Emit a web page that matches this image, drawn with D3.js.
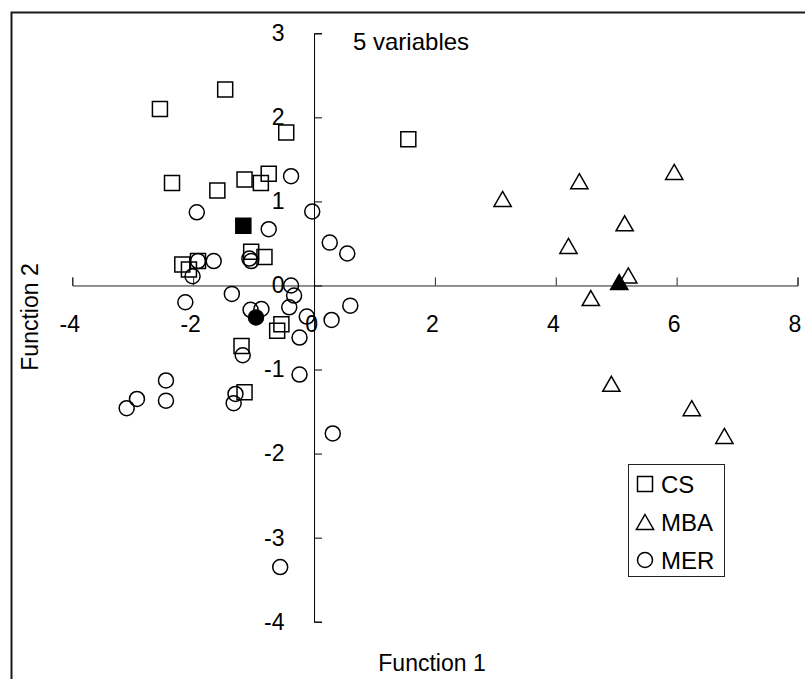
<!DOCTYPE html>
<html>
<head>
<meta charset="utf-8">
<script src="https://cdn.jsdelivr.net/npm/d3@7"></script>
<style>
  html, body { margin: 0; padding: 0; background: #fff; }
  svg text { font-family: Arial, "Liberation Sans", sans-serif; fill: #000; }
</style>
</head>
<body>
<div id="chart"></div>
<script>
// group CS (squares)
var csF1 = [-1.47, -2.55, -0.46, -2.35, -0.75, -1.15, -0.88, -1.60, -1.04, -0.82, -2.18, -1.92, -2.07, -0.54, -0.61, -1.20, -1.15, 1.56];
var csF2 = [2.33, 2.10, 1.82, 1.22, 1.33, 1.26, 1.22, 1.13, 0.40, 0.34, 0.25, 0.29, 0.19, -0.46, -0.54, -0.72, -1.27, 1.74];
// group MBA (triangles)
var mbaF1 = [3.12, 4.39, 5.96, 5.14, 4.21, 5.20, 4.58, 4.92, 6.25, 6.79];
var mbaF2 = [1.03, 1.24, 1.35, 0.74, 0.47, 0.12, -0.15, -1.17, -1.46, -1.79];
// group MER (circles)
var merF1 = [-0.38, -1.94, -0.03, -0.75, 0.26, 0.55, -1.66, -1.07, -1.04, -1.92, -2.01, -0.38, -0.33, -1.36, -2.13, -1.05, -0.87, -0.41, -0.12, 0.29, 0.60, -0.24, -1.18, -0.24, -2.45, -2.93, -3.10, -2.45, -1.30, -1.33, 0.31, -0.56];
var merF2 = [1.30, 0.87, 0.88, 0.67, 0.51, 0.38, 0.29, 0.32, 0.29, 0.29, 0.11, 0.00, -0.12, -0.10, -0.20, -0.29, -0.28, -0.26, -0.37, -0.41, -0.24, -0.62, -0.83, -1.06, -1.13, -1.35, -1.46, -1.37, -1.29, -1.40, -1.76, -3.35];
// group centroids (filled markers)
var centroidF1 = [-1.17, 5.05, -0.96];
var centroidF2 = [0.71, 0.04, -0.38];

var groups = ["CS", "MBA", "MER"];
var shapes = ["square", "triangle", "circle"];
var xTicks = [-4, -2, 0, 2, 4, 6, 8];
var yTicks = [-4, -3, -2, -1, 0, 1, 2, 3];

var width = 805, height = 679;

var svg = d3.select("#chart").append("svg")
  .attr("width", width)
  .attr("height", height);

// chart frame, runs off the right and bottom edge
svg.append("rect")
  .attr("x", 11.5).attr("y", 12.5)
  .attr("width", 820).attr("height", 700)
  .attr("fill", "#fff")
  .attr("stroke", "#1a1a1a")
  .attr("stroke-width", 2);

var x = d3.scaleLinear().domain([-4, 8]).range([72.3, 797.5]);
var y = d3.scaleLinear().domain([-4, 3]).range([621.7, 33.3]);

var fs = 23;

// plain hyphen minus, as in the original
var fmt = function(d) { return String(d); };

var xAxis = d3.axisBottom(x)
  .tickValues(xTicks)
  .tickSizeInner(-8)
  .tickSizeOuter(-8)
  .tickPadding(30)
  .tickFormat(fmt);

var gx = svg.append("g")
  .attr("transform", "translate(0," + y(0) + ")")
  .call(xAxis);
gx.selectAll("path, line").attr("stroke", "#222").attr("stroke-width", 1);
gx.selectAll("text")
  .attr("font-size", fs)
  .attr("dx", -3);

var yAxis = d3.axisLeft(y)
  .tickValues(yTicks)
  .tickSizeInner(-8)
  .tickSizeOuter(-8)
  .tickPadding(29.5)
  .tickFormat(fmt);

var gy = svg.append("g")
  .attr("transform", "translate(" + x(0) + ",0)")
  .call(yAxis);
gy.selectAll("path, line").attr("stroke", "#000").attr("stroke-width", 1);
gy.selectAll("text").attr("font-size", fs);
svg.selectAll(".domain").attr("fill", "none");
svg.selectAll("g").attr("font-family", null);

// marker path, centred on its bounding box like the spreadsheet markers
function markerPath(shape, s) {
  var h = s / 2, p = d3.path();
  if (shape === "square") {
    p.rect(-h, -h, s, s);
  } else if (shape === "triangle") {
    var w = s * 1.15 / 2;
    p.moveTo(0, -h);
    p.lineTo(w, h);
    p.lineTo(-w, h);
    p.closePath();
  } else {
    p.arc(0, 0, h, 0, 2 * Math.PI);
  }
  return p.toString();
}

function zip(a, b) {
  return a.map(function(v, i) { return [v, b[i]]; });
}

var series = [zip(csF1, csF2), zip(mbaF1, mbaF2), zip(merF1, merF2)];
var markSize = 15;

series.forEach(function(pts, gi) {
  svg.append("g").selectAll("path")
    .data(pts)
    .enter().append("path")
    .attr("d", markerPath(shapes[gi], markSize))
    .attr("transform", function(d) { return "translate(" + x(d[0]) + "," + y(d[1]) + ")"; })
    .attr("fill", "none")
    .attr("stroke", "#000")
    .attr("stroke-width", 1.5);
});

svg.append("g").selectAll("path")
  .data(zip(centroidF1, centroidF2))
  .enter().append("path")
  .attr("d", function(d, i) { return markerPath(shapes[i], markSize); })
  .attr("transform", function(d) { return "translate(" + x(d[0]) + "," + y(d[1]) + ")"; })
  .attr("fill", "#000")
  .attr("stroke", "#000")
  .attr("stroke-width", 1.5);

// titles
svg.append("text")
  .attr("x", 353).attr("y", 50)
  .attr("font-size", 24)
  .text("5 variables");

svg.append("text")
  .attr("x", 432).attr("y", 671)
  .attr("text-anchor", "middle")
  .attr("font-size", fs)
  .text("Function 1");

svg.append("text")
  .attr("transform", "translate(38,317) rotate(-90)")
  .attr("text-anchor", "middle")
  .attr("font-size", fs)
  .text("Function 2");

// legend
var legend = svg.append("g");
legend.append("rect")
  .attr("x", 628.5).attr("y", 464.5)
  .attr("width", 96).attr("height", 112)
  .attr("fill", "#fff")
  .attr("stroke", "#222")
  .attr("stroke-width", 1);

var legendY = d3.scalePoint().domain(groups).range([484, 560]);

var item = legend.selectAll("g.item")
  .data(groups)
  .enter().append("g")
  .attr("class", "item")
  .attr("transform", function(d) { return "translate(645," + legendY(d) + ")"; });

item.append("path")
  .attr("d", function(d, i) { return markerPath(shapes[i], 15); })
  .attr("fill", "none")
  .attr("stroke", "#000")
  .attr("stroke-width", 1.5);

item.append("text")
  .attr("x", 16)
  .attr("dy", "0.36em")
  .attr("font-size", 24)
  .text(function(d) { return d; });
</script>
</body>
</html>
